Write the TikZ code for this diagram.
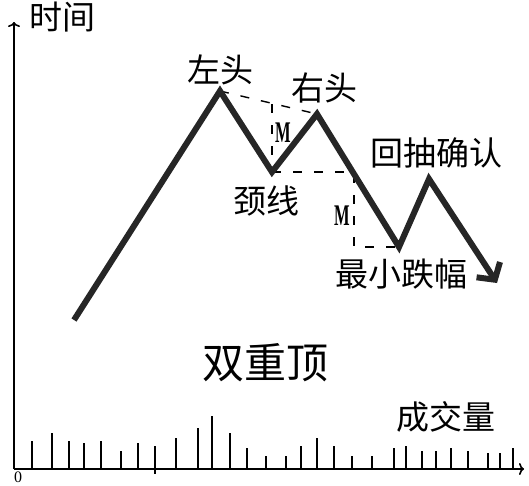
\documentclass[tikz,border=0pt]{standalone}
\usepackage{fontspec}
\newfontfamily\cjk{Noto Sans CJK SC}
\newfontfamily\lserif{Liberation Serif}
\usetikzlibrary{arrows.meta}
\tikzset{
  lbl/.style={font=\cjk\fontsize{33}{33}\selectfont, inner sep=0pt, text=black},
  big/.style={font=\cjk\fontsize{42}{42}\selectfont, inner sep=0pt, text=black},
  mlbl/.style={font=\lserif\bfseries\fontsize{30}{30}\selectfont, inner sep=0pt},
  trend/.style={line width=6pt, draw=black!85, line join=miter},
  guide/.style={line width=1.4pt, draw=black, dash pattern=on 9pt off 12pt},
  axis/.style={line width=1.6pt, draw=black},
  bar/.style={line width=2pt, draw=black}
}
\newcommand{\mtext}{\scalebox{0.55}[1]{M}}
\begin{document}
\begin{tikzpicture}[x=1pt,y=-1pt]
\useasboundingbox (0,0) rectangle (529,485);
\fill[white] (0,0) rectangle (529,485);
% axes
\coordinate (O) at (14,469);
\coordinate (ytop) at (14,22);
\coordinate (xend) at (524,469);
\draw[axis,-{To[length=5pt,width=12pt]}] (O) -- (ytop);
\draw[axis,-{To[length=5pt,width=12pt]}] (O) -- (xend);
\node[lbl] (tlabel) at (62,17) {时间};
\node[font=\lserif\fontsize{16}{16}\selectfont, inner sep=0pt] (zero) at (18,477) {0};
% volume bars
\foreach \x/\t [count=\i] in {32/441,52/433,69/441,84/443,101/441,121/451,138/443,176/438,198/428,212/416,230/433,247/448,266/456,286/456,301/446,317/438,334/446,352/456,372/456,394/448,406/446,422/451,436/451,451/448,468/451,488/453,500/453,513/448}{
  \coordinate (b\i) at (\x,\t);
  \coordinate (a\i) at (\x,469);
  \draw[bar] (a\i) -- (b\i);
}
\coordinate (mt) at (155,446);
\coordinate (mb) at (155,474);
\draw[bar] (mt) -- (mb);
\node[lbl] (vol) at (446,417) {成交量};
% trend line points
\coordinate (p0) at (74,320);
\coordinate (lp) at (220,91);
\coordinate (nk) at (272,172);
\coordinate (rp) at (317,114);
\coordinate (lo) at (399,247);
\coordinate (pb) at (429,179);
\coordinate (end) at (497,283);
% guides
\coordinate (g1) at (272,104);
\coordinate (g2) at (354,172);
\coordinate (g3) at (354,247);
\draw[guide] (lp) -- (rp);
\draw[guide] (g1) -- (nk);
\draw[guide] (nk) -- (g2) -- (g3) -- (lo);
\node[mlbl] (m1) at (283,133) {\mtext};
\node[mlbl] (m2) at (342,216) {\mtext};
% trend
\draw[trend,-{Straight Barb[length=12pt,width=28pt]}] (p0) -- (lp) -- (nk) -- (rp) -- (lo) -- (pb) -- (end);
% labels
\node[lbl] (lh) at (220,70) {左头};
\node[lbl] (rh) at (324,88) {右头};
\node[lbl] (neck) at (266,201) {颈线};
\node[lbl] (pull) at (436,153) {回抽确认};
\node[lbl] (minf) at (401,274) {最小跌幅};
\node[big] (title) at (265,363) {双重顶};
\end{tikzpicture}
\end{document}
